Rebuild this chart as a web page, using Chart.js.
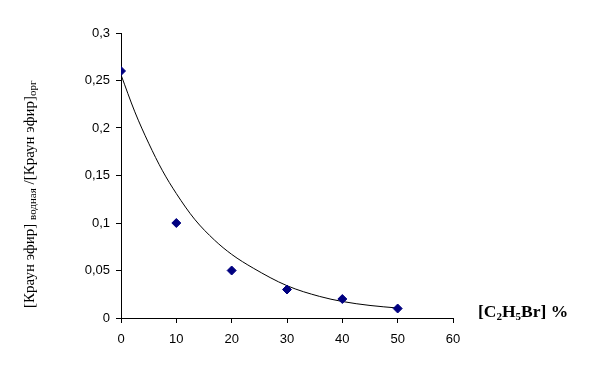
<!DOCTYPE html>
<html>
<head>
<meta charset="utf-8">
<script src="https://cdn.jsdelivr.net/npm/chart.js@4"></script>
<style>
html,body{margin:0;padding:0;background:#fff;}
#wrap{width:598px;height:374px;position:relative;}
</style>
</head>
<body>
<div id="wrap"><canvas id="c" width="598" height="374"></canvas></div>
<script>
// Measured points
const concC2H5Br = [0, 10, 20, 30, 40, 50];
const ratioValues = [0.26, 0.10, 0.05, 0.03, 0.02, 0.01];
// Trend curve
const trendX = [0, 2.5, 5, 7.5, 10, 13.3, 16.9, 20, 23.9, 30, 35.9, 40, 45, 50];
const trendY = [0.256, 0.217, 0.184, 0.155, 0.131, 0.104, 0.082, 0.067, 0.0525, 0.034, 0.0227, 0.0174, 0.0132, 0.0105];
// Axis ticks
const xTicks = [0, 10, 20, 30, 40, 50, 60];
const yTicks = [0, 0.05, 0.1, 0.15, 0.2, 0.25, 0.3];

const titlePlugin = {
  id: 'titles',
  afterDraw(chart) {
    const ctx = chart.ctx;
    ctx.save();
    ctx.fillStyle = '#000';
    ctx.textBaseline = 'alphabetic';
    ctx.textAlign = 'left';
    // Y title, rotated
    ctx.translate(34, 308);
    ctx.rotate(-Math.PI / 2);
    const mainF = '15px "Liberation Serif", serif';
    const subF = '11px "Liberation Serif", serif';
    let x = 0;
    const parts = [
      ['[Краун эфир] ', mainF, 0],
      ['водная', subF, 2],
      [' /[Краун эфир]', mainF, 0],
      ['орг', subF, 2]
    ];
    for (const [t, f, dy] of parts) {
      ctx.font = f;
      ctx.fillText(t, x, dy);
      x += ctx.measureText(t).width;
    }
    ctx.restore();

    // X title
    ctx.save();
    ctx.fillStyle = '#000';
    ctx.textBaseline = 'alphabetic';
    ctx.textAlign = 'left';
    const bF = 'bold 17.5px "Liberation Serif", serif';
    const bS = 'bold 11px "Liberation Serif", serif';
    let xx = 478;
    const by = 317;
    const xparts = [
      ['[C', bF, 0], ['2', bS, 3], ['H', bF, 0], ['5', bS, 3], ['Br] %', bF, 0]
    ];
    for (const [t, f, dy] of xparts) {
      ctx.font = f;
      ctx.fillText(t, xx, by + dy);
      xx += ctx.measureText(t).width;
    }
    ctx.restore();
  }
};

const fmt = v => String(Math.round(v * 100) / 100).replace('.', ',');

new Chart(document.getElementById('c'), {
  type: 'scatter',
  data: {
    datasets: [
      {
        data: concC2H5Br.map((x, i) => ({x, y: ratioValues[i]})),
        pointStyle: 'rectRot',
        pointRadius: 4.5,
        backgroundColor: '#000080',
        borderColor: '#000080',
        borderWidth: 1,
        showLine: false
      },
      {
        data: trendX.map((x, i) => ({x, y: trendY[i]})),
        showLine: true,
        pointRadius: 0,
        borderColor: '#000',
        borderWidth: 1,
        cubicInterpolationMode: 'monotone',
        fill: false
      }
    ]
  },
  options: {
    responsive: false,
    animation: false,
    events: [],
    layout: {padding: {left: 0, top: 33, right: 145, bottom: 0}},
    plugins: {legend: {display: false}, tooltip: {enabled: false}},
    scales: {
      x: {
        type: 'linear', min: 0, max: 60,
        afterBuildTicks: s => { s.ticks = xTicks.map(v => ({value: v})); },
        afterFit: s => { s.height = 56; },
        grid: {drawOnChartArea: false, drawTicks: true, tickLength: 5, color: '#000'},
        border: {color: '#000', width: 1},
        ticks: {color: '#000', font: {family: '"Liberation Sans", Arial', size: 13}, padding: 9, maxRotation: 0, callback: fmt}
      },
      y: {
        type: 'linear', min: 0, max: 0.3,
        afterBuildTicks: s => { s.ticks = yTicks.map(v => ({value: v})); },
        afterFit: s => { s.width = 121; },
        grid: {drawOnChartArea: false, drawTicks: true, tickLength: 5, color: '#000'},
        border: {color: '#000', width: 1},
        ticks: {color: '#000', font: {family: '"Liberation Sans", Arial', size: 13}, padding: 6, callback: fmt}
      }
    }
  },
  plugins: [titlePlugin]
});
</script>
</body>
</html>
